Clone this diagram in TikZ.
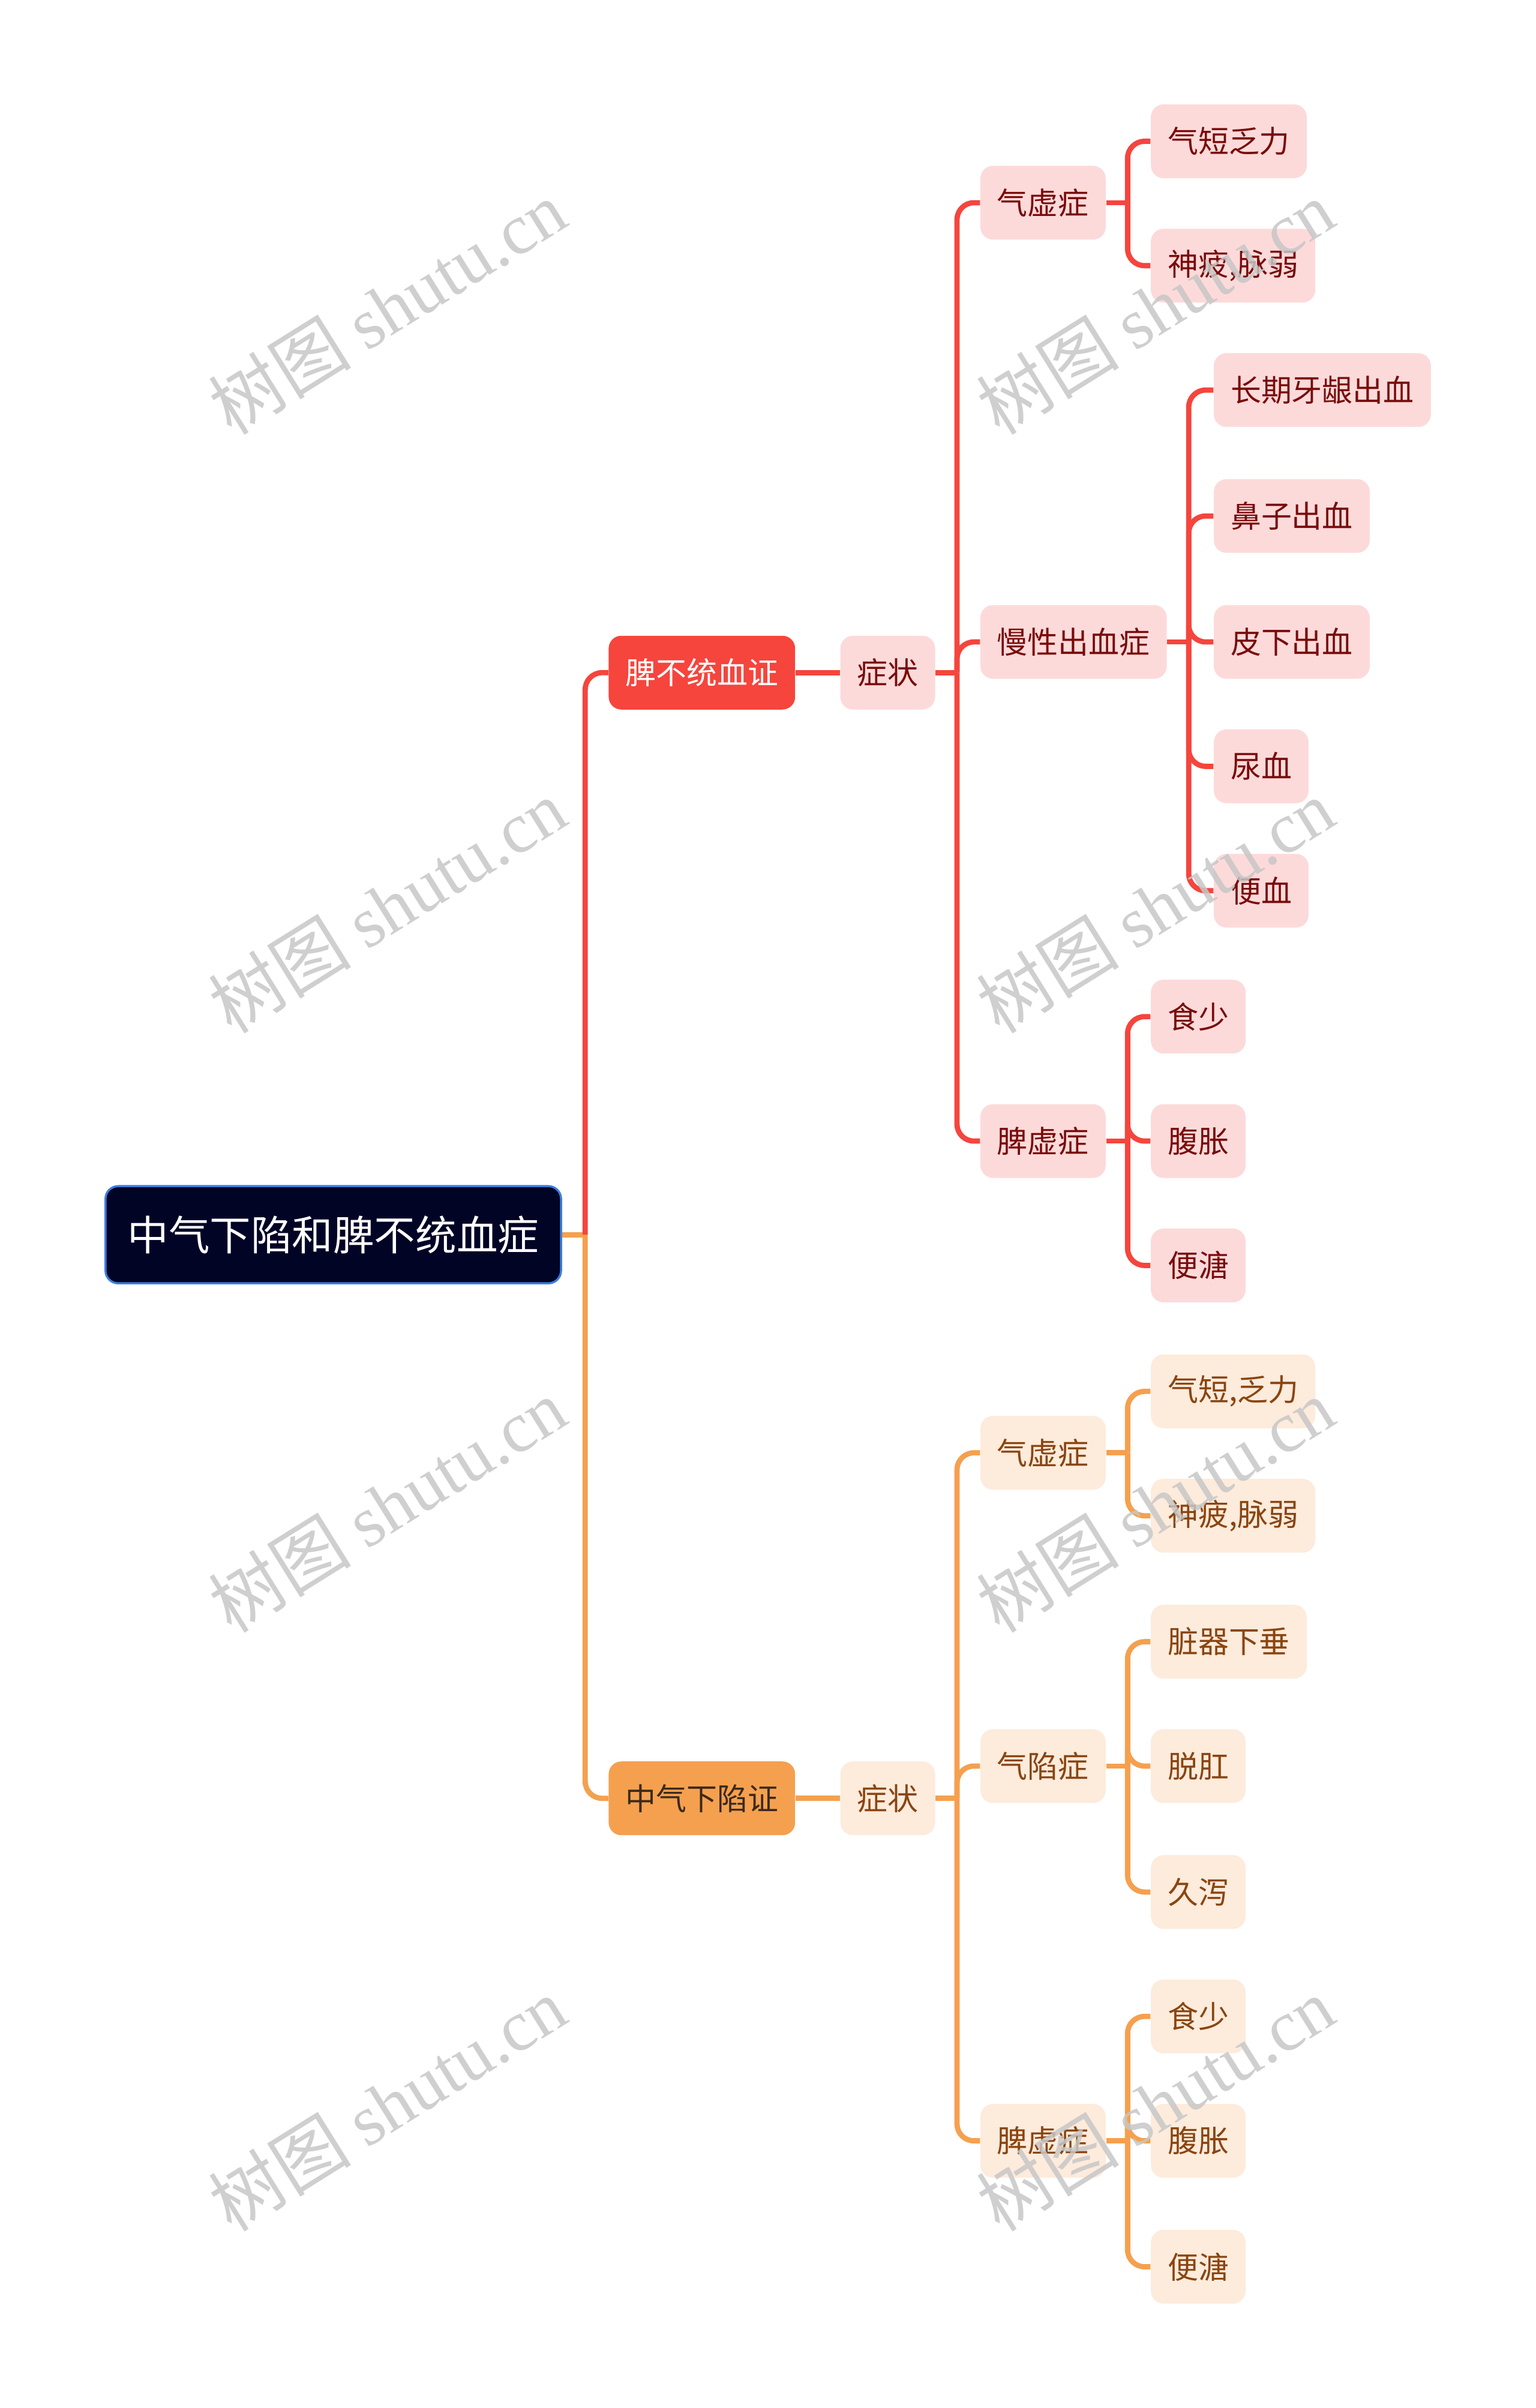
\documentclass[tikz,border=0pt]{standalone}
\usepackage{fontspec}
\setmainfont{Noto Sans CJK SC}
\newfontfamily\wmserif{Liberation Serif}
\usetikzlibrary{positioning,calc}
\definecolor{rootbg}{HTML}{020426}
\definecolor{rootedge}{HTML}{3B7DDD}
\definecolor{redmain}{HTML}{F5453D}
\definecolor{redsoft}{HTML}{FDDADA}
\definecolor{redtext}{HTML}{7A0B0B}
\definecolor{orgmain}{HTML}{F5A04F}
\definecolor{orgsoft}{HTML}{FDEBDC}
\definecolor{orgtext}{HTML}{8A4510}
\definecolor{orgdark}{HTML}{3B2A1A}

\begin{document}
\begin{tikzpicture}[x=0.0256cm, y=-0.0256cm, node distance=7.4mm, every node/.style={font=\fontsize{14.5}{16}\selectfont, inner sep=0pt}, box/.style={rounded corners=6pt, minimum height=1.23cm, inner xsep=0.28cm, anchor=west}, root/.style={box, draw=rootedge, line width=1pt, fill=rootbg, text=white, minimum height=1.62cm, inner xsep=0.37cm, font=\fontsize{19.5}{22}\selectfont}, redtop/.style={box, fill=redmain, text=white}, redbox/.style={box, fill=redsoft, text=redtext}, orgtop/.style={box, fill=orgmain, text=orgdark}, orgbox/.style={box, fill=orgsoft, text=orgtext}, redl/.style={draw=redmain, line width=2.5pt, rounded corners=8pt}, orgl/.style={draw=orgmain, line width=2.5pt, rounded corners=8pt}, wm/.style={rotate=32, text=black!22, opacity=0.85, font=\fontsize{34}{36}\selectfont}]
\useasboundingbox (0,0) rectangle (1000,1568);

% root
\node[root] (main) at (68,804) {中气下陷和脾不统血症};
\coordinate (j0) at (381,804);

% red branch
\node[redtop] (pbt) at (396,438) {脾不统血证};
\node[redbox, right=of pbt] (pzz) {症状};
\coordinate (j1) at ($(pzz.east)+(14,0)$);
\node[redbox] (pqx) at (638,132) {气虚症};
\node[redbox] (pmx) at (638,418) {慢性出血症};
\node[redbox] (ppx) at (638,743) {脾虚症};
\node[redbox] (pqx1) at (749,92) {气短乏力};
\node[redbox] (pqx2) at (749,173) {神疲,脉弱};
\node[redbox] (pmx1) at (790,254) {长期牙龈出血};
\node[redbox] (pmx2) at (790,336) {鼻子出血};
\node[redbox] (pmx3) at (790,418) {皮下出血};
\node[redbox] (pmx4) at (790,499) {尿血};
\node[redbox] (pmx5) at (790,580) {便血};
\node[redbox] (ppx1) at (749,662) {食少};
\node[redbox] (ppx2) at (749,743) {腹胀};
\node[redbox] (ppx3) at (749,824) {便溏};
\coordinate (j2) at ($(pqx.east)+(14,0)$);
\coordinate (j3) at ($(pmx.east)+(14,0)$);
\coordinate (j4) at ($(ppx.east)+(14,0)$);

% orange branch
\node[orgtop] (zqx) at (396,1171) {中气下陷证};
\node[orgbox, right=of zqx] (zzz) {症状};
\coordinate (k1) at ($(zzz.east)+(14,0)$);
\node[orgbox] (zqs) at (638,946) {气虚症};
\node[orgbox] (zqh) at (638,1150) {气陷症};
\node[orgbox] (zpx) at (638,1394) {脾虚症};
\node[orgbox] (zqs1) at (749,906) {气短,乏力};
\node[orgbox] (zqs2) at (749,987) {神疲,脉弱};
\node[orgbox] (zqh1) at (749,1069) {脏器下垂};
\node[orgbox] (zqh2) at (749,1150) {脱肛};
\node[orgbox] (zqh3) at (749,1232) {久泻};
\node[orgbox] (zpx1) at (749,1313) {食少};
\node[orgbox] (zpx2) at (749,1394) {腹胀};
\node[orgbox] (zpx3) at (749,1476) {便溏};
\coordinate (k2) at ($(zqs.east)+(14,0)$);
\coordinate (k3) at ($(zqh.east)+(14,0)$);
\coordinate (k4) at ($(zpx.east)+(14,0)$);

% connectors
\draw[orgl] (main.east) -- (j0); \draw[orgl] (j0) |- (zqx.west); \draw[redl] (j0) |- (pbt.west);
\draw[redl] (pbt) -- (pzz); \draw[redl] (pzz.east) -- (j1);
\draw[redl] (j1) |- (pqx.west); \draw[redl] (j1) |- (pmx.west); \draw[redl] (j1) |- (ppx.west);
\draw[redl] (pqx.east) -- (j2); \draw[redl] (j2) |- (pqx1.west); \draw[redl] (j2) |- (pqx2.west);
\draw[redl] (pmx.east) -- (j3); \draw[redl] (j3) |- (pmx1.west); \draw[redl] (j3) |- (pmx2.west); \draw[redl] (j3) |- (pmx3.west); \draw[redl] (j3) |- (pmx4.west); \draw[redl] (j3) |- (pmx5.west);
\draw[redl] (ppx.east) -- (j4); \draw[redl] (j4) |- (ppx1.west); \draw[redl] (j4) |- (ppx2.west); \draw[redl] (j4) |- (ppx3.west);
\draw[orgl] (zqx) -- (zzz); \draw[orgl] (zzz.east) -- (k1);
\draw[orgl] (k1) |- (zqs.west); \draw[orgl] (k1) |- (zqh.west); \draw[orgl] (k1) |- (zpx.west);
\draw[orgl] (zqs.east) -- (k2); \draw[orgl] (k2) |- (zqs1.west); \draw[orgl] (k2) |- (zqs2.west);
\draw[orgl] (zqh.east) -- (k3); \draw[orgl] (k3) |- (zqh1.west); \draw[orgl] (k3) |- (zqh2.west); \draw[orgl] (k3) |- (zqh3.west);
\draw[orgl] (zpx.east) -- (k4); \draw[orgl] (k4) |- (zpx1.west); \draw[orgl] (k4) |- (zpx2.west); \draw[orgl] (k4) |- (zpx3.west);

% watermark
\foreach \wx in {252,752} \foreach \wy in {200,590,980,1370}
  \node[wm] (wm-\wx-\wy) at (\wx,\wy) {树图 {\wmserif shutu.cn}};
\end{tikzpicture}
\end{document}
